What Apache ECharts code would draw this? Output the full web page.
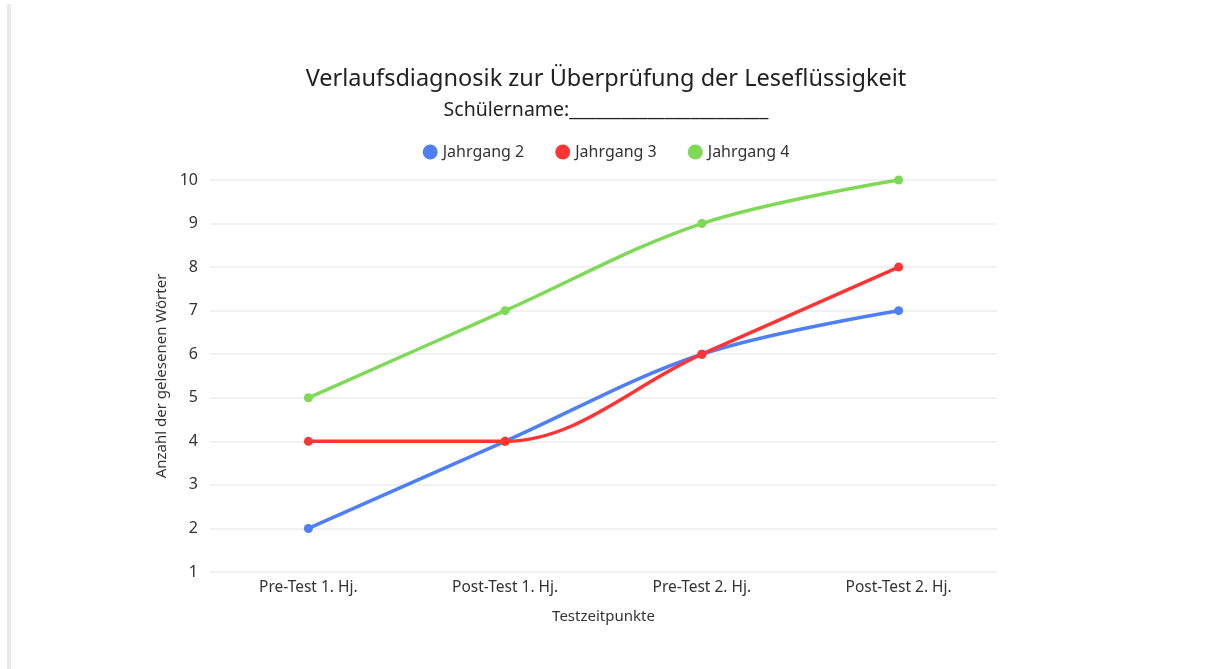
<!DOCTYPE html>
<html><head><meta charset="utf-8">
<script src="https://cdn.jsdelivr.net/npm/echarts@6/dist/echarts.min.js"></script>
<style>html,body{margin:0;padding:0;background:#fff}#c{width:1212px;height:669px}
#bar{position:absolute;left:7px;top:4px;width:4px;height:665px;background:#e8e9ec}</style>
</head><body><div id="bar"></div><div id="c"></div>
<script>
const categories = ['Pre-Test 1. Hj.', 'Post-Test 1. Hj.', 'Pre-Test 2. Hj.', 'Post-Test 2. Hj.'];
const jahrgang2 = [2, 4, 6, 7];
const jahrgang3 = [4, 4, 6, 8];
const jahrgang4 = [5, 7, 9, 10];
const seriesNames = ['Jahrgang 2', 'Jahrgang 3', 'Jahrgang 4'];
const colors = ['#4F7FF5', '#FF3535', '#7ED957'];
const FONT = 'Noto Sans';
const chart = echarts.init(document.getElementById('c'));
const mk = (name, data, color) => ({
  name, type: 'line', data, smooth: 0.35, symbol: 'circle', symbolSize: 9,
  itemStyle: {color}, lineStyle: {color, width: 3.5}, emphasis: {disabled: true}
});
chart.setOption({
  backgroundColor: 'transparent',
  textStyle: {fontFamily: FONT},
  title: [
    {text: 'Verlaufsdiagnosik zur Überprüfung der Leseflüssigkeit', left: 'center', top: 62,
     textStyle: {fontFamily: FONT, fontSize: 23.5, fontWeight: 'normal', color: '#222'}},
    {text: 'Schülername:_______________________', left: 'center', top: 95,
     textStyle: {fontFamily: FONT, fontSize: 19.5, fontWeight: 'normal', color: '#222'}}
  ],
  legend: {top: 139, left: 'center', itemGap: 31, itemWidth: 15, itemHeight: 15, icon: 'circle',
    textStyle: {fontFamily: FONT, fontSize: 16, color: '#333'}, data: seriesNames},
  grid: {left: 210, right: 215, top: 180, bottom: 97},
  xAxis: {type: 'category', data: categories, boundaryGap: true,
    axisLine: {show: false}, axisTick: {show: false},
    axisLabel: {fontFamily: FONT, fontSize: 15.5, color: '#333', margin: 8},
    name: 'Testzeitpunkte', nameLocation: 'middle', nameGap: 37,
    nameTextStyle: {fontFamily: FONT, fontSize: 15, color: '#333'}},
  yAxis: {type: 'value', min: 1, max: 10, interval: 1,
    axisLine: {show: false}, axisTick: {show: false},
    axisLabel: {fontFamily: FONT, fontSize: 16, color: '#333', margin: 12},
    splitLine: {lineStyle: {color: '#ececec', width: 1.5}},
    name: 'Anzahl der gelesenen Wörter', nameLocation: 'middle', nameGap: 40,
    nameTextStyle: {fontFamily: FONT, fontSize: 15, color: '#333'}},
  series: [mk(seriesNames[0], jahrgang2, colors[0]), mk(seriesNames[1], jahrgang3, colors[1]), mk(seriesNames[2], jahrgang4, colors[2])]
});
</script></body></html>
